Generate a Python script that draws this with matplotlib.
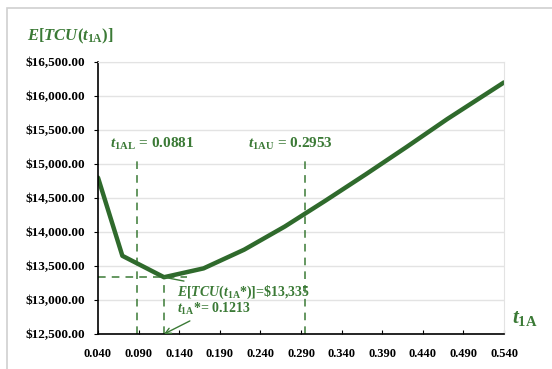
import matplotlib
matplotlib.use("Agg")
import matplotlib.pyplot as plt
from matplotlib.patches import Rectangle
from matplotlib.ticker import FuncFormatter

# Data
t1A = [0.04, 0.07, 0.1213, 0.17, 0.22, 0.27, 0.32, 0.37, 0.42, 0.47, 0.54]
etcu = [14800, 13650, 13335, 13465, 13740, 14080, 14460, 14850, 15250, 15660, 16200]
t_low = 0.0881
t_up = 0.2953
t_opt = 0.1213
etcu_opt = 13335
xticks = [0.040, 0.090, 0.140, 0.190, 0.240, 0.290, 0.340, 0.390, 0.440, 0.490, 0.540]
yticks = [12500, 13000, 13500, 14000, 14500, 15000, 15500, 16000, 16500]

green = "#2f6a2c"
tgreen = "#3b7a36"
serif = "Liberation Serif"
plt.rcParams["mathtext.fontset"] = "custom"
plt.rcParams["mathtext.rm"] = "Liberation Serif:bold"
plt.rcParams["mathtext.it"] = "Liberation Serif:bold:italic"
plt.rcParams["mathtext.bf"] = "Liberation Serif:bold"

fig = plt.figure(figsize=(5.52, 3.69), dpi=100)
fig.patches.append(Rectangle((7/552, -0.1), 1.2, 1 - 8/369 + 0.1, transform=fig.transFigure,
                             fill=False, edgecolor="#d0d0d0", linewidth=1.2))
ax = fig.add_axes([98/552, 1 - 334/369, (504 - 98)/552, (334 - 62)/369])

ax.set_xlim(0.04, 0.54)
ax.set_ylim(12500, 16500)
ax.set_xticks(xticks)
ax.set_yticks(yticks)
ax.xaxis.set_major_formatter(FuncFormatter(lambda v, p: f"{v:.3f}"))
ax.yaxis.set_major_formatter(FuncFormatter(lambda v, p: f"${v:,.2f}"))
for lab in ax.get_xticklabels():
    lab.set_fontfamily(serif)
    lab.set_fontweight("bold")
    lab.set_fontsize(9)
for lab in ax.get_yticklabels():
    lab.set_fontfamily(serif)
    lab.set_fontweight("bold")
    lab.set_fontsize(9.5)
ax.tick_params(axis="x", direction="in", length=3, pad=10)
ax.tick_params(axis="y", direction="out", length=3, pad=6)
ax.grid(axis="y", color="#e3e3e3", linewidth=1)
ax.set_axisbelow(True)
for s in ["top", "right"]:
    ax.spines[s].set_color("#e3e3e3")
for s in ["left", "bottom"]:
    ax.spines[s].set_color("black")
    ax.spines[s].set_linewidth(1.2)

# dashed guide lines
dash = dict(color=tgreen, linestyle=(0, (5, 4)), linewidth=1.1)
ax.plot([t_low, t_low], [12500, 15100], **dash)
ax.plot([t_up, t_up], [12500, 15100], **dash)
ax.plot([0.04, 0.15], [etcu_opt, etcu_opt], **dash)
ax.plot([t_opt, t_opt], [12500, etcu_opt], **dash)

ax.plot(t1A, etcu, color=green, linewidth=3.2, solid_capstyle="round", solid_joinstyle="round")

ax.text(0.0545, 15180, r"$t_{\mathrm{1AL}}$ = 0.0881", color=tgreen, fontsize=11,
        fontfamily=serif, fontweight="bold", va="bottom")
ax.text(0.2245, 15180, r"$t_{\mathrm{1AU}}$ = 0.2953", color=tgreen, fontsize=11,
        fontfamily=serif, fontweight="bold", va="bottom")
ax.annotate(r"$E[TCU(t_{\mathrm{1A}}$*)]=\$13,335", xy=(t_opt, etcu_opt), xytext=(0.137, 13110),
            color=tgreen, fontsize=10, fontfamily=serif, fontweight="bold", va="center",
            arrowprops=dict(arrowstyle="-", color=tgreen, lw=1.0, shrinkA=0, shrinkB=0))
ax.annotate(r"$t_{\mathrm{1A}}$*= 0.1213", xy=(t_opt, 12500), xytext=(0.137, 12870),
            color=tgreen, fontsize=10, fontfamily=serif, fontweight="bold", va="center",
            arrowprops=dict(arrowstyle="->", color=tgreen, lw=1.0, shrinkA=2, shrinkB=0))

fig.text(27/552, 1 - 36/369, r"$E[TCU(t_{\mathrm{1A}})]$", color=tgreen, fontsize=12, va="center")
fig.text(512/552, 1 - 318/369, r"$t_{\mathrm{1A}}$", color=tgreen, fontsize=15, va="center")

fig.savefig("out.png", dpi=100)
